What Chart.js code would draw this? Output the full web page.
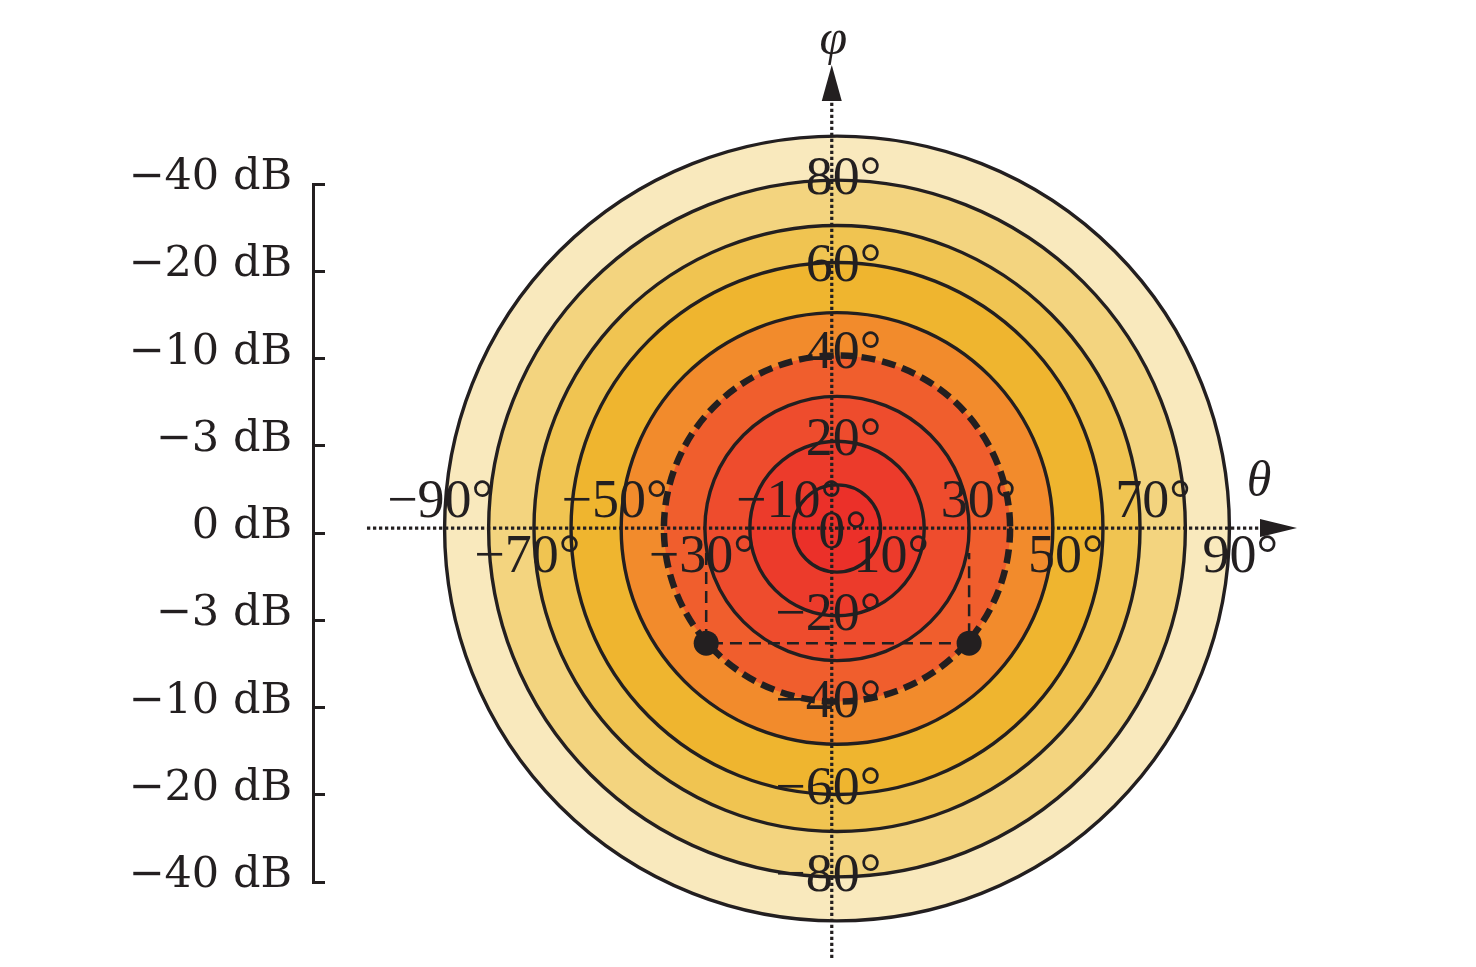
<!DOCTYPE html>
<html>
<head>
<meta charset="utf-8">
<script src="https://cdn.jsdelivr.net/npm/chart.js@4.4.1/dist/chart.umd.min.js"></script>
<style>
html,body{margin:0;padding:0;background:#ffffff;overflow:hidden;}
canvas{display:block;}
</style>
</head>
<body>
<canvas id="c" width="1476" height="967"></canvas>
<script>
// ---------------- data ----------------
// contour radii in degrees (outer -> inner)
const ringRadii = [90, 79.9, 69.5, 61, 49.5, 39.7, 30.3, 20, 10];
// the dashed contour (−3 dB beam edge)
const dashedRing = 39.7;
// angle labels along the θ and φ axes
const thetaTicks = [-90, -70, -50, -30, -10, 0, 10, 30, 50, 70, 90];
const phiTicks = [80, 60, 40, 20, -20, -40, -60, -80];
// level scale labels
const dbLabels = ['−40 dB', '−20 dB', '−10 dB', '−3 dB', '0 dB', '−3 dB', '−10 dB', '−20 dB', '−40 dB'];
// the two marked points (θ, φ) and the top of their guide lines
const markerTheta = [-30, 30.3];
const markerPhi = [-26.3, -26.3];
const guideTopPhi = -5.6;

// ---------------- styles ----------------
const ringColors = ['#F9E9BD', '#F3D47F', '#F0C451', '#EFB52F', '#F28B2C', '#F05E2D', '#EE4C2D', '#EC3B2B', '#EB3029'];
const INK = '#231F20';
const SERIF = "'Liberation Serif', 'Times New Roman', serif";

// axis origin (data units) and extents of the dotted axes
const axisOrigin = { x: -1.2, y: 0.1 };
const axisExtent = { left: -107.8, right: 105.5, bottom: -98.5, top: 106.3 };

const guideData = [
  { x: markerTheta[0], y: guideTopPhi },
  { x: markerTheta[0], y: markerPhi[0] },
  { x: markerTheta[1], y: markerPhi[1] },
  { x: markerTheta[1], y: guideTopPhi }
];
const markerData = markerTheta.map((t, i) => ({ x: t, y: markerPhi[i] }));

const ringsPlugin = {
  id: 'rings',
  beforeDatasetsDraw(chart) {
    const { ctx, scales: { x, y } } = chart;
    const cx = x.getPixelForValue(0), cy = y.getPixelForValue(0);
    const k = x.getPixelForValue(1) - cx;
    ctx.save();
    ringRadii.forEach((r, i) => {
      ctx.beginPath();
      ctx.arc(cx, cy, r * k, 0, Math.PI * 2);
      ctx.fillStyle = ringColors[i];
      ctx.fill();
      const dashed = r === dashedRing;
      ctx.lineWidth = dashed ? 6.5 : 3.4;
      ctx.setLineDash(dashed ? [14, 7] : []);
      ctx.strokeStyle = INK;
      ctx.stroke();
    });
    // dotted axes
    const ax = x.getPixelForValue(axisOrigin.x), ay = y.getPixelForValue(axisOrigin.y);
    const hL = x.getPixelForValue(axisExtent.left), hR = x.getPixelForValue(axisExtent.right);
    const vB = y.getPixelForValue(axisExtent.bottom), vT = y.getPixelForValue(axisExtent.top);
    ctx.setLineDash([3.3, 2.7]);
    ctx.lineWidth = 3.2;
    ctx.strokeStyle = INK;
    ctx.beginPath(); ctx.moveTo(hL, ay); ctx.lineTo(hR - 36, ay); ctx.stroke();
    ctx.beginPath(); ctx.moveTo(ax, vB); ctx.lineTo(ax, vT + 36); ctx.stroke();
    ctx.setLineDash([]);
    ctx.fillStyle = INK;
    ctx.beginPath(); ctx.moveTo(hR, ay); ctx.lineTo(hR - 37, ay - 9); ctx.lineTo(hR - 37, ay + 9); ctx.closePath(); ctx.fill();
    ctx.beginPath(); ctx.moveTo(ax, vT); ctx.lineTo(ax - 10, vT + 36); ctx.lineTo(ax + 10, vT + 36); ctx.closePath(); ctx.fill();
    ctx.restore();
  }
};

function degLabel(ctx, val, cxDigits, cyMid) {
  const digits = String(Math.abs(val));
  const neg = val < 0;
  const wd = ctx.measureText(digits).width;
  const wm = neg ? ctx.measureText('−').width : 0;
  ctx.textAlign = 'left';
  ctx.textBaseline = 'middle';
  ctx.fillText((neg ? '−' : '') + digits + '°', cxDigits - wd / 2 - wm, cyMid);
}

const labelsPlugin = {
  id: 'angleLabels',
  afterDatasetsDraw(chart) {
    const { ctx, scales: { x, y } } = chart;
    const ax = x.getPixelForValue(axisOrigin.x), ay = y.getPixelForValue(axisOrigin.y);
    ctx.save();
    ctx.fillStyle = INK;
    ctx.font = '54px ' + SERIF;
    thetaTicks.forEach(t => {
      if (t === 0) { degLabel(ctx, t, ax, ay + 6); return; }
      const above = ((t + 90) / 20) % 2 === 0;
      degLabel(ctx, t, x.getPixelForValue(t), above ? ay - 25 : ay + 29.5);
    });
    phiTicks.forEach(p => degLabel(ctx, p, ax + 1, y.getPixelForValue(p)));
    ctx.font = 'italic 50px ' + SERIF;
    ctx.textAlign = 'center';
    ctx.textBaseline = 'alphabetic';
    ctx.fillText('φ', ax + 1.5, 54);
    ctx.fillText('θ', x.getPixelForValue(axisExtent.right) - 38, ay - 32);
    ctx.restore();
  }
};

new Chart(document.getElementById('c'), {
  type: 'scatter',
  data: {
    datasets: [
      {
        type: 'line', data: guideData, xAxisID: 'x', yAxisID: 'y',
        borderColor: INK, borderWidth: 2.5, borderDash: [12, 7],
        pointRadius: 0, fill: false, tension: 0, clip: false, order: 1
      },
      {
        data: markerData, xAxisID: 'x', yAxisID: 'y',
        pointRadius: 12.5, backgroundColor: INK, borderColor: INK, borderWidth: 0,
        clip: false, order: 0
      }
    ]
  },
  options: {
    responsive: false,
    animation: false,
    devicePixelRatio: 1,
    events: [],
    layout: { padding: { top: 184, bottom: 85, left: 0, right: 115 } },
    plugins: { legend: { display: false }, tooltip: { enabled: false } },
    scales: {
      x: { type: 'linear', min: -120.18, max: 120.18, display: false },
      y: { type: 'linear', min: -81.08, max: 79.01, display: false },
      yDb: {
        type: 'category', labels: dbLabels, position: 'left',
        afterFit(s) { s.width = 313; },
        grid: { drawOnChartArea: false, drawTicks: true, tickLength: -12, lineWidth: 3, color: INK },
        border: { display: true, width: 3, color: INK },
        ticks: {
          autoSkip: false, padding: 33, labelOffset: -6, color: INK,
          font: { family: "'DejaVu Serif', serif", size: 43 }
        }
      }
    }
  },
  plugins: [ringsPlugin, labelsPlugin]
});
</script>
</body>
</html>
